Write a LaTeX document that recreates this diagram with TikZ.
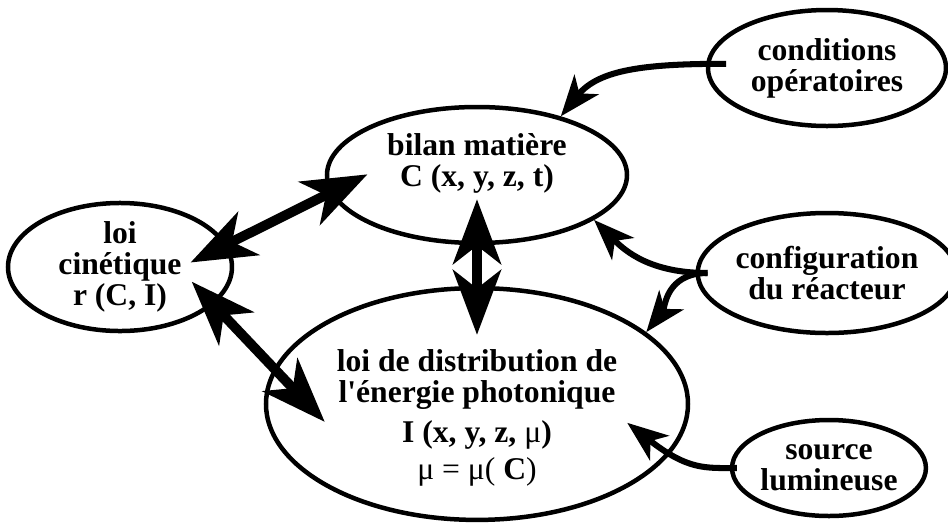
\documentclass[tikz,border=0pt]{standalone}
\usepackage{fontspec}
\setmainfont{Liberation Serif}[Ligatures=TeXOff]
\usetikzlibrary{shapes.geometric,arrows.meta,positioning}
\tikzset{cloud/.style={ellipse,draw,line width=3.2pt,inner sep=0pt,align=center,font=\bfseries\fontsize{22.5}{22}\selectfont}}
\tikzset{link/.style={line width=7pt,>={Stealth[length=46pt,width=34pt,inset=13pt]},<->}}
\tikzset{feed/.style={line width=4.3pt,-{Stealth[length=29pt,width=22pt,inset=8pt]}}}

\begin{document}
\begin{tikzpicture}[node distance=8.75cm]
    \useasboundingbox (-11.925,-8.775) rectangle (11.775,4.375);

    \node[cloud,minimum width=7.5cm,minimum height=3.4cm,text depth=21.6pt] (bilan) {bilan matière\\C (x, y, z, t)};
    \node[cloud,minimum width=5.6cm,minimum height=3.0cm,left of=bilan,node distance=8.925cm,yshift=-2.3cm] (cine) {loi\\cinétique\\r (C, I)};
    \node[cloud,minimum width=10.55cm,minimum height=5.3cm,below of=bilan,node distance=5.725cm,text height=112pt,text depth=4.6pt] (distrib)
        {loi de distribution de\\[-0.5pt]l'énergie photonique\\[7pt]I (x, y, z, {\mdseries μ})\\[4pt]{\mdseries μ = μ(} C{\mdseries )}};

    \node[cloud,minimum width=5.95cm,minimum height=2.9cm,right of=bilan,yshift=2.675cm] (cond) {conditions\\opératoires};
    \node[cloud,minimum width=5.95cm,minimum height=3.0cm,right of=bilan,yshift=-2.45cm] (config) {configuration\\du réacteur};
    \node[cloud,minimum width=4.8cm,minimum height=2.4cm,right of=bilan,node distance=8.8cm,yshift=-7.325cm] (source) {source\\lumineuse};

    % couplages
    \draw[link,shorten <=-1.025cm,shorten >=-1.05cm] (cine.12) -- (bilan.187);
    \draw[link,shorten <=-0.8cm,shorten >=-1.85cm] (cine.338) -- (distrib.170);
    \draw[link,shorten <=-1.15cm,shorten >=-1.225cm] (bilan.south) -- (distrib.north);

    % donnees externes
    \draw[feed,shorten <=-0.5cm] (cond.178) to[out=180,in=51] (bilan.35);
    \draw[feed,shorten <=-0.3cm] (config.west) to[out=180,in=-45] (bilan.-21);
    \draw[feed,shorten <=-0.3cm] (config.west) to[out=180,in=52] (distrib.23);
    \draw[feed,shorten <=-0.175cm,shorten >=-1.325cm] (source.west) to[out=180,in=-38] (distrib.-15);
\end{tikzpicture}
\end{document}
